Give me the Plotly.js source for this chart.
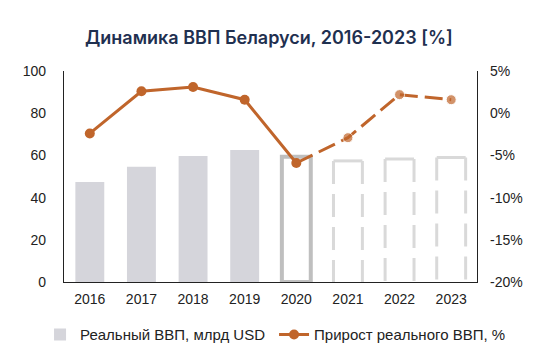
<!DOCTYPE html>
<html>
<head>
<meta charset="utf-8">
<script src="https://cdn.plot.ly/plotly-3.0.1.min.js"></script>
<style>html,body{margin:0;padding:0;background:#fff;}#chart{width:552px;height:357px;}</style>
</head>
<body>
<div id="chart"></div>
<script>
// ---- data ----
const years = ["2016","2017","2018","2019","2020","2021","2022","2023"];
const gdpReal = [47.4, 54.6, 59.7, 62.6, 59.4, 57.4, 58.3, 59.0];   // млрд USD
const gdpGrowth = [-2.4, 2.6, 3.1, 1.6, -5.9, -2.9, 2.2, 1.6];      // %
const lastActualIdx = 3;   // 2019 - last solid bar
const estimateIdx = 4;     // 2020 - outlined bar
const leftTicks = [0, 20, 40, 60, 80, 100];
const rightTicks = [-20, -15, -10, -5, 0, 5];

// ---- styles ----
const barGray = "#d5d5db";
const outlineGray = "#bfbfbf";
const dashGray = "#d9d9d9";
const orange = "#c0652b";
const barW = 0.56;
const idx = years.map((_, i) => i);

const traces = [];

// solid bars (2016-2020), 2020 only outlined
const solidIdx = idx.slice(0, estimateIdx + 1);
traces.push({
  type: "bar",
  x: solidIdx,
  y: solidIdx.map(i => gdpReal[i]),
  width: barW,
  name: "Реальный ВВП, млрд USD",
  marker: {
    color: solidIdx.map(i => i <= lastActualIdx ? barGray : "rgba(255,255,255,0)"),
    line: {
      color: solidIdx.map(i => i <= lastActualIdx ? barGray : outlineGray),
      width: solidIdx.map(i => i <= lastActualIdx ? 0 : 4)
    }
  },
  hoverinfo: "skip",
  showlegend: true
});

// forecast bars (2021-2023): dashed sides + solid top
const fcIdx = idx.slice(estimateIdx + 1);
const sideX = [], sideY = [], topX = [], topY = [];
fcIdx.forEach(i => {
  const L = i - barW / 2, R = i + barW / 2;
  sideX.push(L, L, null, R, R, null);
  sideY.push(gdpReal[i], 0, null, gdpReal[i], 0, null);
  topX.push(L, R, null);
  topY.push(gdpReal[i], gdpReal[i], null);
});
traces.push({
  type: "scatter", mode: "lines", x: sideX, y: sideY, connectgaps: false,
  line: {color: dashGray, width: 3, dash: "23px,10px"},
  showlegend: false, hoverinfo: "skip"
});
traces.push({
  type: "scatter", mode: "lines", x: topX, y: topY, connectgaps: false,
  line: {color: dashGray, width: 3},
  showlegend: false, hoverinfo: "skip"
});

// growth line: solid part
const solidLine = idx.slice(0, estimateIdx + 1);
traces.push({
  type: "scatter",
  mode: "lines+markers",
  x: solidLine,
  y: solidLine.map(i => gdpGrowth[i]),
  yaxis: "y2",
  name: "Прирост реального ВВП, %",
  line: {color: orange, width: 3},
  marker: {color: orange, size: 10},
  hoverinfo: "skip"
});
// growth line: dashed forecast part
const dashLine = idx.slice(estimateIdx);
traces.push({
  type: "scatter",
  mode: "lines+markers",
  x: dashLine,
  y: dashLine.map(i => gdpGrowth[i]),
  yaxis: "y2",
  line: {color: orange, width: 3, dash: "18px,7px"},
  marker: {color: orange, size: dashLine.map(i => i === estimateIdx ? 0 : 10)},
  showlegend: false,
  hoverinfo: "skip"
});

const tickFont = {family: "Liberation Sans, Arial, sans-serif", size: 14, color: "#222"};

const layout = {
  width: 552, height: 357,
  margin: {l: 64, r: 75, t: 71, b: 75, autoexpand: false},
  paper_bgcolor: "#fff", plot_bgcolor: "#fff",
  title: {
    text: "Динамика ВВП Беларуси, 2016-2023 [%]",
    font: {family: "Inter, sans-serif", size: 18, color: "#1f3050", weight: 600},
    xref: "paper", x: 0.496, xanchor: "center", y: 0.895, yanchor: "middle"
  },
  xaxis: {
    type: "linear", range: [-0.5, 7.5],
    tickmode: "array", tickvals: idx, ticktext: years,
    showgrid: false, zeroline: false,
    showline: true, linecolor: "#222", linewidth: 1.2,
    ticks: "", tickfont: tickFont, ticklabelstandoff: 4,
    fixedrange: true
  },
  yaxis: {
    range: [0, 100], tickmode: "array", tickvals: leftTicks,
    showgrid: false, zeroline: false,
    showline: true, linecolor: "#222", linewidth: 1.2,
    ticks: "", tickfont: tickFont, ticklabelstandoff: 14,
    fixedrange: true
  },
  yaxis2: {
    overlaying: "y", side: "right",
    range: [-20, 5], tickmode: "array", tickvals: rightTicks,
    ticktext: rightTicks.map(v => v + "%"),
    showgrid: false, zeroline: false,
    showline: true, linecolor: "#222", linewidth: 1.2,
    ticks: "", tickfont: tickFont, ticklabelstandoff: 9,
    fixedrange: true
  },
  legend: {
    orientation: "h", x: -0.058, xanchor: "left", y: -0.25, yanchor: "middle",
    font: {family: "Liberation Sans, Arial, sans-serif", size: 15, color: "#222"},
    entrywidth: 189, entrywidthmode: "pixels", traceorder: "normal"
  },
  showlegend: true
};

Plotly.newPlot("chart", traces, layout, {displayModeBar: false, staticPlot: true});
</script>
</body>
</html>
